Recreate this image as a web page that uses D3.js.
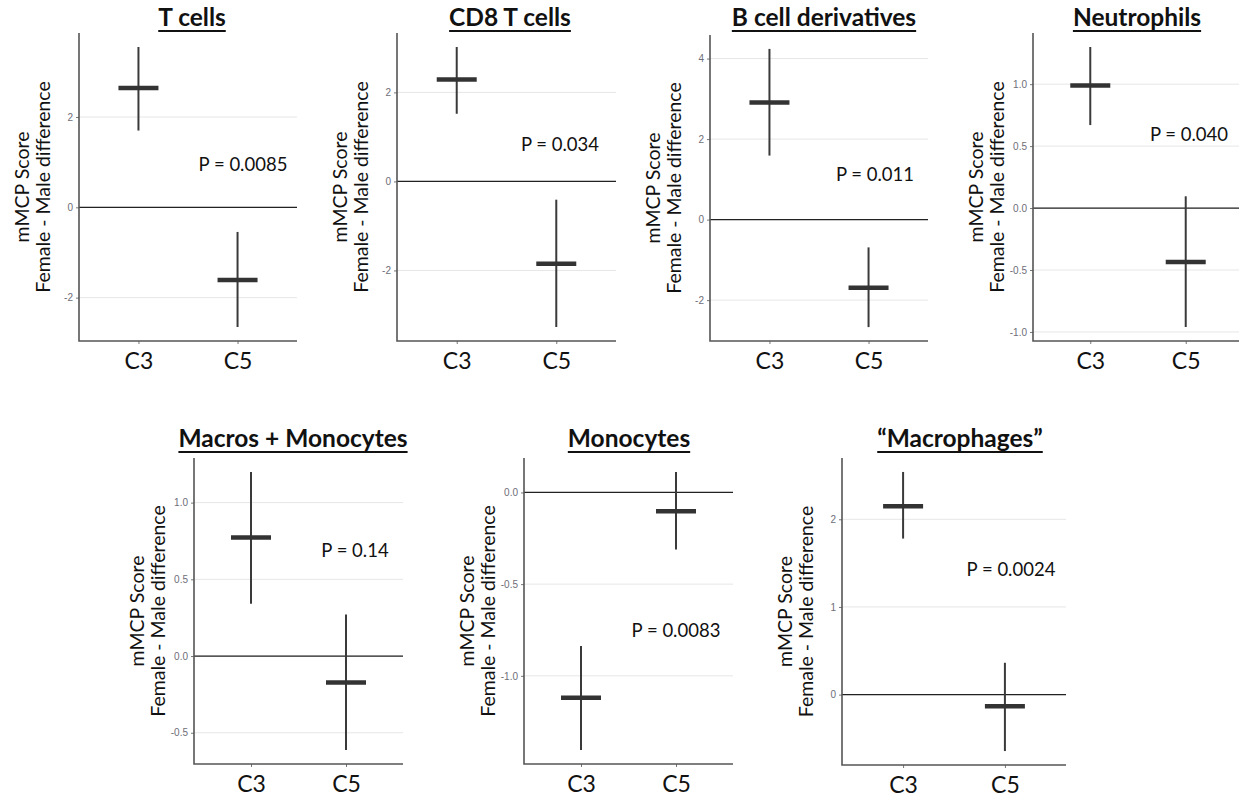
<!DOCTYPE html>
<html>
<head>
<meta charset="utf-8">
<script src="https://cdn.jsdelivr.net/npm/d3@7"></script>
<style>
  body { margin: 0; background: #fff; }
  svg { display: block; }
  .tick text { font-family: "Liberation Sans", Arial, sans-serif; font-size: 10px; fill: #6e6e78; }
</style>
</head>
<body>
<div id="chart"></div>
<script>
// panel data
const titles = ["T cells", "CD8 T cells", "B cell derivatives", "Neutrophils",
                "Macros + Monocytes", "Monocytes", "\u201cMacrophages\u201d"];
const groups = ["C3", "C5"];
// estimate for [C3, C5]
const estimates = [[2.64, -1.61], [2.29, -1.85], [2.91, -1.69], [0.99, -0.435],
                   [0.772, -0.173], [-1.12, -0.102], [2.15, -0.134]];
const lower = [[1.70, -2.65], [1.52, -3.27], [1.59, -2.67], [0.67, -0.96],
               [0.34, -0.613], [-1.405, -0.311], [1.78, -0.644]];
const upper = [[3.55, -0.545], [3.02, -0.41], [4.24, -0.69], [1.30, 0.095],
               [1.20, 0.27], [-0.838, 0.112], [2.54, 0.363]];
const pLabels = ["P = 0.0085", "P = 0.034", "P = 0.011", "P = 0.040",
                 "P = 0.14", "P = 0.0083", "P = 0.0024"];
const yTicks = [[-2, 0, 2], [-2, 0, 2], [-2, 0, 2, 4], [-1, -0.5, 0, 0.5, 1],
                [-0.5, 0, 0.5, 1], [-1, -0.5, 0], [0, 1, 2]];
const yLabel = ["mMCP Score", "Female - Male difference"];

// where each panel sits on the page
const layout = [
  {left: 79,  right: 297,  top: 33,  bottom: 341, titleX: 192,  titleY: 26,  pX: 243,  pY: 171},
  {left: 397, right: 616,  top: 33,  bottom: 341, titleX: 510,  titleY: 26,  pX: 560,  pY: 151},
  {left: 710, right: 928,  top: 35,  bottom: 341, titleX: 824,  titleY: 26,  pX: 875,  pY: 181},
  {left: 1033, right: 1243, top: 33, bottom: 341, titleX: 1137, titleY: 26,  pX: 1189, pY: 141},
  {left: 194, right: 403,  top: 458, bottom: 764, titleX: 293,  titleY: 447, pX: 355,  pY: 557},
  {left: 524, right: 733,  top: 458, bottom: 764, titleX: 629,  titleY: 447, pX: 676,  pY: 637},
  {left: 842, right: 1066, top: 458, bottom: 765, titleX: 960,  titleY: 447, pX: 1011, pY: 576}
];

const W = 1239, H = 799;
const font = "Lato, 'Open Sans', sans-serif";

const svg = d3.select("#chart").append("svg")
  .attr("width", W).attr("height", H);

titles.forEach((title, i) => {
  const L = layout[i];
  const lo = d3.min(lower[i]), hi = d3.max(upper[i]);
  const pad = (hi - lo) * 0.05;

  const y = d3.scaleLinear().domain([lo - pad, hi + pad]).range([L.bottom, L.top]);
  const x = d3.scalePoint().domain(groups).range([L.left, L.right]).padding(0.6);

  const g = svg.append("g");
  const fmt = yTicks[i].some(t => t % 1 !== 0) ? (d => d.toFixed(1)) : (d => String(d));

  // gridlines
  g.selectAll("line.grid").data(yTicks[i]).enter().append("line")
    .attr("class", "grid")
    .attr("x1", L.left).attr("x2", L.right)
    .attr("y1", d => y(d)).attr("y2", d => y(d))
    .attr("stroke", "#e6e6e6").attr("stroke-width", 1);

  // zero reference
  g.append("line")
    .attr("x1", L.left).attr("x2", L.right)
    .attr("y1", y(0)).attr("y2", y(0))
    .attr("stroke", "#222").attr("stroke-width", 1.2);

  // axes
  const yAxis = g.append("g")
    .attr("transform", `translate(${L.left},0)`)
    .call(d3.axisLeft(y).tickValues(yTicks[i]).tickFormat(fmt).tickSize(3).tickPadding(3));
  yAxis.select(".domain").remove();
  yAxis.selectAll(".tick line").attr("stroke", "#777");

  const xAxis = g.append("g")
    .attr("transform", `translate(0,${L.bottom})`)
    .call(d3.axisBottom(x).tickSize(3).tickPadding(9));
  xAxis.select(".domain").remove();
  xAxis.selectAll(".tick line").attr("stroke", "#777");
  xAxis.selectAll(".tick text")
    .style("font-family", font).style("font-size", "23px").style("fill", "#111");

  g.append("path")
    .attr("d", `M${L.left},${L.top}V${L.bottom}H${L.right}`)
    .attr("fill", "none").attr("stroke", "#555").attr("stroke-width", 1.6);

  // error bars
  g.selectAll("line.err").data(groups).enter().append("line")
    .attr("class", "err")
    .attr("x1", d => x(d)).attr("x2", d => x(d))
    .attr("y1", (d, j) => y(lower[i][j])).attr("y2", (d, j) => y(upper[i][j]))
    .attr("stroke", "#3a3a3a").attr("stroke-width", 2);

  // estimate bars
  g.selectAll("line.est").data(groups).enter().append("line")
    .attr("class", "est")
    .attr("x1", d => x(d) - 20).attr("x2", d => x(d) + 20)
    .attr("y1", (d, j) => y(estimates[i][j])).attr("y2", (d, j) => y(estimates[i][j]))
    .attr("stroke", "#333").attr("stroke-width", 4.5);

  // p value
  g.append("text")
    .attr("x", L.pX).attr("y", L.pY)
    .attr("text-anchor", "middle")
    .style("font-family", font).style("font-size", "18.5px").style("fill", "#111")
    .text(pLabels[i]);

  // y label (two lines)
  const cy = (L.top + L.bottom) / 2;
  yLabel.forEach((t, k) => {
    g.append("text")
      .attr("transform", `translate(${L.left - 50 + k * 21},${cy}) rotate(-90)`)
      .attr("text-anchor", "middle")
      .style("font-family", font).style("font-size", "19.5px").style("fill", "#111")
      .text(t);
  });

  // title with underline
  const tt = g.append("text")
    .attr("x", L.titleX).attr("y", L.titleY)
    .attr("text-anchor", "middle")
    .style("font-family", font).style("font-size", "24.5px")
    .style("font-weight", "bold").style("fill", "#111")
    .text(title);
  const tw = tt.node().getComputedTextLength();
  g.append("line")
    .attr("x1", L.titleX - tw / 2).attr("x2", L.titleX + tw / 2)
    .attr("y1", L.titleY + 5).attr("y2", L.titleY + 5)
    .attr("stroke", "#111").attr("stroke-width", 2);
});
</script>
</body>
</html>
